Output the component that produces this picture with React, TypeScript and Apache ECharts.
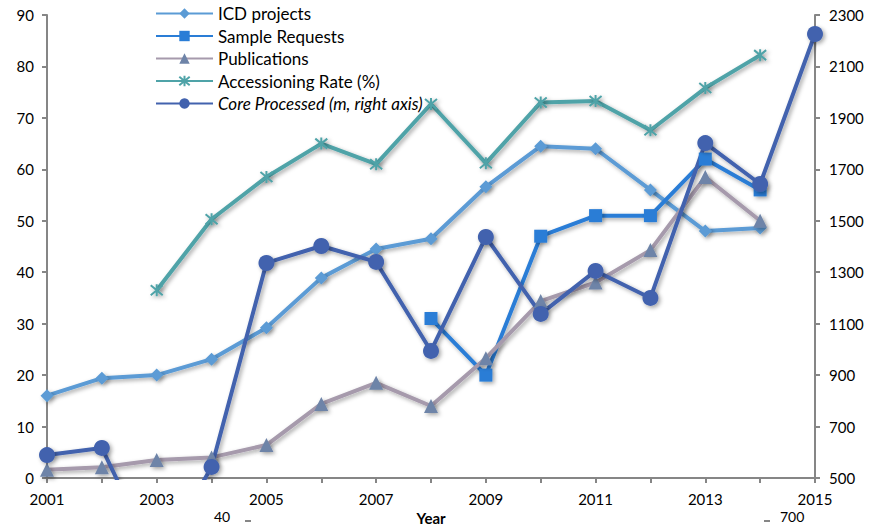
import React, { useEffect, useRef } from "react";
import * as echarts from "echarts";

const years = ["2001","2002","2003","2004","2005","2006","2007","2008","2009","2010","2011","2012","2013","2014","2015"];
const icdProjects = [16, 19.4, 20, 23.1, 29.2, 38.9, 44.5, 46.5, 56.6, 64.5, 64, 56, 48, 48.6, null];
const sampleRequests = [null, null, null, null, null, null, null, 31, 20, 47, 51, 51, 62, 56, null];
const publications = [1.6, 2.1, 3.5, 4, 6.4, 14.4, 18.5, 14, 23.3, 34.4, 38, 44.3, 58.5, 50, null];
const accessioningRate = [null, null, 36.5, 50.3, 58.5, 65, 61, 72.7, 61.2, 73, 73.3, 67.6, 75.8, 82.2, null];
const coreProcessed = [589, 617, 170, 543, 1336, 1402, 1340, 994, 1437, 1138, 1305, 1200, 1802, 1643, 2226];

const FONT = "Lato";
const AXIS_COLOR = "#868686";
const shadow = { shadowColor: "rgba(0,0,0,0.35)", shadowBlur: 4, shadowOffsetX: 2, shadowOffsetY: 2 };

export default function App() {
  const ref = useRef<HTMLDivElement>(null);
  useEffect(() => {
    const chart = echarts.init(ref.current!, null, { renderer: "svg" });
    const mk = (name: string, data: any[], color: string, markerColor: string, symbol: string, symbolSize: number, yAxisIndex = 0, extraItem: any = {}) => ({
      name,
      type: "line",
      data,
      yAxisIndex,
      symbol,
      symbolSize,
      showAllSymbol: true,
      clip: true,
      connectNulls: false,
      lineStyle: { color, width: 4, ...shadow },
      itemStyle: { color: markerColor, ...shadow, ...extraItem },
      emphasis: { disabled: true },
    });
    chart.setOption({
      animation: false,
      textStyle: { fontFamily: FONT },
      grid: { left: 47, right: 55, top: 15, bottom: 48, outerBoundsMode: "none", containLabel: false },
      legend: {
        orient: "vertical",
        left: 155,
        top: 5,
        padding: 0,
        itemWidth: 57,
        itemHeight: 13,
        itemGap: 5.5,
        textStyle: {
          fontFamily: FONT,
          fontSize: 17,
          color: "#000",
          rich: { i: { fontStyle: "italic", fontSize: 17, fontFamily: FONT, color: "#000" } },
        },
        formatter: (n: string) => (n.startsWith("Core") ? "{i|" + n + "}" : n),
        data: ["ICD projects", "Sample Requests", "Publications", "Accessioning Rate (%)", "Core Processed (m, right axis)"],
      },
      xAxis: {
        type: "category",
        data: years,
        boundaryGap: false,
        axisLine: { lineStyle: { color: AXIS_COLOR, width: 2 } },
        axisTick: { show: true, interval: 0, length: 5, lineStyle: { color: AXIS_COLOR, width: 2 } },
        axisLabel: { interval: 1, color: "#000", fontSize: 15, fontFamily: FONT, margin: 13 },
        splitLine: { show: false },
        name: "Year",
        nameLocation: "middle",
        nameGap: 31,
        nameTextStyle: { fontWeight: "bold", fontSize: 15, color: "#000", fontFamily: FONT },
      },
      yAxis: [
        {
          type: "value",
          min: 0,
          max: 90,
          interval: 10,
          axisLine: { show: true, lineStyle: { color: AXIS_COLOR, width: 2 } },
          axisTick: { show: true, length: 5, lineStyle: { color: AXIS_COLOR, width: 2 } },
          axisLabel: { color: "#000", fontSize: 15, fontFamily: FONT, margin: 13 },
          splitLine: { show: false },
        },
        {
          type: "value",
          position: "right",
          min: 500,
          max: 2300,
          interval: 200,
          axisLine: { show: true, lineStyle: { color: AXIS_COLOR, width: 2 } },
          axisTick: { show: true, length: 5, lineStyle: { color: AXIS_COLOR, width: 2 } },
          axisLabel: { color: "#000", fontSize: 15, fontFamily: FONT, margin: 14, formatter: (v: number) => String(v) },
          splitLine: { show: false },
        },
      ],
      series: [
        mk("ICD projects", icdProjects, "#5B9BD5", "#5B9BD5", "diamond", 13),
        mk("Sample Requests", sampleRequests, "#2A7DD6", "#2A7DD6", "rect", 13),
        mk("Publications", publications, "#A69AAC", "#6E84A8", "triangle", 14),
        mk(
          "Accessioning Rate (%)",
          accessioningRate,
          "#4FA3A8",
          "#4FA3A8",
          "path://M0,0 L10,10 M10,0 L0,10 M5,-1 L5,11",
          12,
          0,
          { borderColor: "#4FA3A8", borderWidth: 2 }
        ),
        mk("Core Processed (m, right axis)", coreProcessed, "#4262AE", "#4262AE", "circle", 16, 1),
      ],
      graphic: [
        { type: "text", left: 214, top: 509, style: { text: "40", fontSize: 14, fontFamily: FONT, fill: "#000" } },
        { type: "rect", shape: { x: 245, y: 520, width: 6, height: 2 }, style: { fill: AXIS_COLOR } },
        { type: "text", left: 780, top: 509, style: { text: "700", fontSize: 14, fontFamily: FONT, fill: "#000" } },
        { type: "rect", shape: { x: 764, y: 520, width: 6, height: 2 }, style: { fill: AXIS_COLOR } },
      ],
    });
    return () => chart.dispose();
  }, []);
  return <div ref={ref} style={{ position: "absolute", left: 0, top: 0, width: 870, height: 526, background: "#fff" }} />;
}
